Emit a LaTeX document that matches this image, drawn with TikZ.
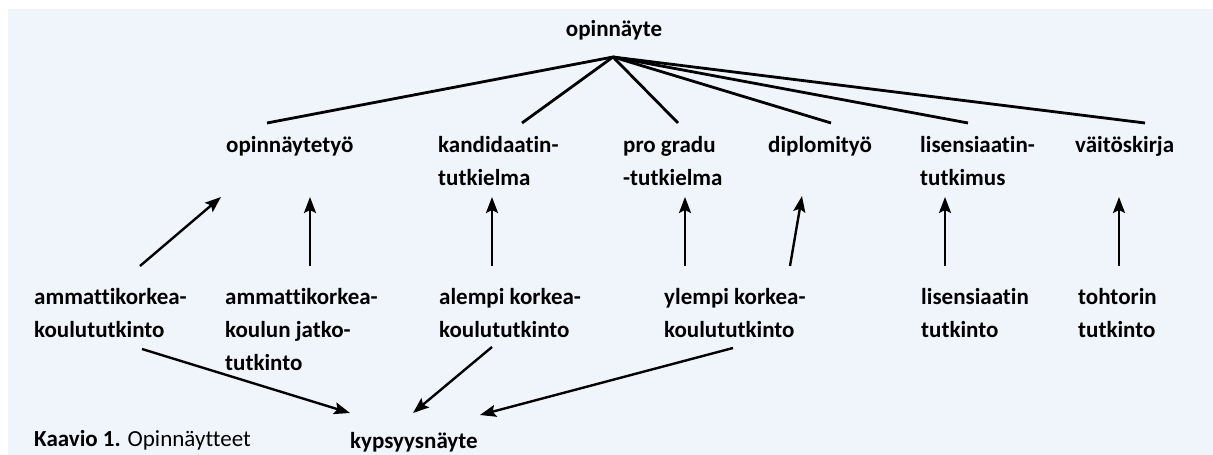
\documentclass[tikz,border=0pt]{standalone}
\usepackage{fontspec}
\setmainfont{Carlito}[Ligatures=NoCommon]
\usepackage{tikz}
\usetikzlibrary{calc, positioning, arrows.meta}
\definecolor{panel}{HTML}{F0F5FC}
\newcommand{\lblfont}{\fontsize{23}{33}\selectfont\bfseries}

\begin{document}
\begin{tikzpicture}[x=1pt, y=1pt, every node/.style={align=left, inner sep=0pt, anchor=north west, font=\lblfont}, arr/.style={-{Stealth[length=16pt, width=12pt, inset=3pt]}, line width=2.4pt}, tree/.style={line width=2.8pt}]
 \useasboundingbox (0,0) rectangle (1213,455);
 \fill[panel] (8,0) rectangle (1213,446);
 \node[anchor=base] (op) at (614,418) {opinnäyte};
 \node (ot) at (226,319) {opinnäytetyö};
 \node (kt) at (438,319) {kandidaatin-\\tutkielma};
 \node (pg) at (623,319) {pro gradu\\-tutkielma};
 \node (dt) at (768,319) {diplomityö};
 \node (lt) at (920,319) {lisensiaatin-\\tutkimus};
 \node (vk) at (1075,319) {väitöskirja};
 \node (ak) at (34,167) {ammattikorkea-\\koulututkinto};
 \node (aj) at (225,167) {ammattikorkea-\\koulun jatko-\\tutkinto};
 \node (al) at (439,167) {alempi korkea-\\koulututkinto};
 \node (yl) at (664,167) {ylempi korkea-\\koulututkinto};
 \node (li) at (921,167) {lisensiaatin\\tutkinto};
 \node (to) at (1078,167) {tohtorin\\tutkinto};
 \node[anchor=base west] (ky) at (350,6) {kypsyysnäyte};
 \node[anchor=base west, font=\fontsize{23}{33}\selectfont] (cap) at (34,8) {\textbf{Kaavio 1.} Opinnäytteet};
 \coordinate (hub) at ($(op.base)+(-1,-20)$);
 \draw[tree] (hub) -- ($(ot.north west)+(41,13)$);
 \draw[tree] (hub) -- ($(kt.north west)+(84,13)$);
 \draw[tree] (hub) -- ($(pg.north west)+(55,13)$);
 \draw[tree] (hub) -- ($(dt.north west)+(63,13)$);
 \draw[tree] (hub) -- ($(lt.north west)+(48,13)$);
 \draw[tree] (hub) -- ($(vk.north west)+(70,13)$);
 \draw[arr] ($(ak.north west)+(106,22)$) -- ($(ot.north west)+(-5,-61)$);
 \draw[arr] ($(aj.north west)+(85,22)$) -- ($(ot.north west)+(84,-61)$);
 \draw[arr] ($(al.north west)+(53,22)$) -- ($(kt.north west)+(54,-61)$);
 \draw[arr] ($(yl.north west)+(21,22)$) -- ($(pg.north west)+(62,-61)$);
 \draw[arr] ($(yl.north west)+(126,22)$) -- ($(dt.north west)+(34,-60)$);
 \draw[arr] ($(li.north west)+(24,22)$) -- ($(lt.north west)+(25,-61)$);
 \draw[arr] ($(to.north west)+(41,22)$) -- ($(vk.north west)+(44,-61)$);
 \draw[arr] ($(ak.north west)+(108,-61)$) -- ($(ky.base west)+(0,36)$);
 \draw[arr] ($(al.north west)+(53,-59)$) -- ($(ky.base west)+(63,36)$);
 \draw[arr] ($(yl.north west)+(69,-60)$) -- ($(ky.base west)+(130,34)$);
\end{tikzpicture}
\end{document}
